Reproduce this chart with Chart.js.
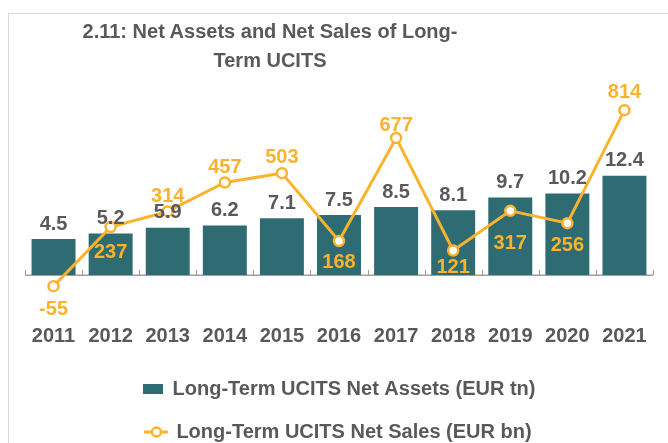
<!DOCTYPE html>
<html>
<head>
<meta charset="utf-8">
<script src="https://cdn.jsdelivr.net/npm/chart.js@4"></script>
<style>
  body { margin: 0; background: #fff; }
  #wrap { position: relative; width: 668px; height: 443px; }
  #frame { position: absolute; left: 8px; top: 13px; right: -2px; bottom: -2px;
           border-left: 1px solid #d3dae2; border-top: 1px solid #d3dae2; }
  #title { position: absolute; left: 70px; width: 400px; top: 17px; text-align: center;
           font: bold 20px "Liberation Sans", Arial, sans-serif; line-height: 29px; color: #595959; }
  canvas { position: absolute; left: 0; top: 0; }
</style>
</head>
<body>
<div id="wrap">
  <div id="frame"></div>
  <canvas id="myChart" width="668" height="443"></canvas>
  <div id="title">2.11: Net Assets and Net Sales of Long-<br>Term UCITS</div>
</div>
<script>
// ------------ data -------------
const years = ['2011', '2012', '2013', '2014', '2015', '2016', '2017', '2018', '2019', '2020', '2021'];
const netAssets = [4.5, 5.2, 5.9, 6.2, 7.1, 7.5, 8.5, 8.1, 9.7, 10.2, 12.4];
const netSales = [-55, 237, 314, 457, 503, 168, 677, 121, 317, 256, 814];

// label placement for the net sales line (px, negative = above the point)
const salesLabelDy = [23, 25, -15, -15, -16, 22, -12, 17, 33, 22, -18];

const teal = '#2f6b72';
const orange = '#fbb32e';
const grey = '#595959';
const font = '"Liberation Sans", Arial, sans-serif';

// legend markers
function boxIcon() {
  var c = document.createElement('canvas');
  c.width = 20; c.height = 10;
  var g = c.getContext('2d');
  g.fillStyle = teal;
  g.fillRect(0, 0, 20, 10);
  return c;
}
function lineIcon() {
  var c = document.createElement('canvas');
  c.width = 24; c.height = 14;
  var g = c.getContext('2d');
  g.strokeStyle = orange;
  g.lineWidth = 3;
  g.beginPath(); g.moveTo(0, 7); g.lineTo(24, 7); g.stroke();
  g.fillStyle = '#fff';
  g.lineWidth = 2.5;
  g.beginPath(); g.arc(12, 7, 4.5, 0, Math.PI * 2); g.fill(); g.stroke();
  return c;
}

// baseline at zero with inside ticks
const baselinePlugin = {
  id: 'baseline',
  beforeDatasetsDraw(chart) {
    var ctx = chart.ctx;
    var x = chart.scales.x;
    var y0 = Math.round(chart.scales.y.getPixelForValue(0));
    ctx.save();
    ctx.strokeStyle = '#a0a0a0';
    ctx.lineWidth = 1.5;
    ctx.beginPath(); ctx.moveTo(x.left, y0 + 0.25); ctx.lineTo(x.right, y0 + 0.25); ctx.stroke();
    ctx.lineWidth = 1;
    var step = (x.right - x.left) / years.length;
    for (var i = 0; i <= years.length; i++) {
      var px = Math.round(x.left + i * step) + 0.5;
      ctx.beginPath(); ctx.moveTo(px, y0); ctx.lineTo(px, y0 - 5); ctx.stroke();
    }
    ctx.restore();
  }
};

// value labels
const labelPlugin = {
  id: 'labels',
  afterDatasetsDraw(chart) {
    var ctx = chart.ctx;
    ctx.save();
    ctx.font = 'bold 20px ' + font;
    ctx.textAlign = 'center';
    ctx.textBaseline = 'middle';
    ctx.fillStyle = grey;
    chart.getDatasetMeta(0).data.forEach(function (bar, i) {
      ctx.fillText(netAssets[i].toFixed(1), bar.x, bar.y - 15);
    });
    ctx.fillStyle = orange;
    chart.getDatasetMeta(1).data.forEach(function (pt, i) {
      ctx.fillText(String(netSales[i]), pt.x, pt.y + salesLabelDy[i]);
    });
    ctx.restore();
  }
};

const data = {
  labels: years,
  datasets: [{
    type: 'bar',
    label: 'Long-Term UCITS Net Assets (EUR tn)',
    data: netAssets,
    yAxisID: 'y',
    backgroundColor: teal,
    categoryPercentage: 0.77,
    barPercentage: 1,
    order: 1
  },
  {
    type: 'line',
    label: 'Long-Term UCITS Net Sales (EUR bn)',
    data: netSales,
    yAxisID: 'y2',
    borderColor: orange,
    borderWidth: 3,
    pointRadius: 5,
    pointBorderWidth: 2.5,
    pointBackgroundColor: '#fff',
    pointBorderColor: orange,
    clip: false,
    order: 0
  }]
};

const config = {
  type: 'bar',
  data: data,
  options: {
    responsive: false,
    animation: false,
    layout: { padding: { left: 25, right: 15, top: 95, bottom: -9 } },
    scales: {
      x: {
        grid: { display: false },
        border: { display: false },
        ticks: { color: grey, font: { family: font, size: 20, weight: 'bold' }, padding: 16 },
        afterFit: function (scale) {
          scale.height = 56;
          scale.paddingLeft = 0;
          scale.paddingRight = 0;
        }
      },
      y: { display: false, min: -3.125, max: 22.5 },
      y2: { display: false, min: -123.5, max: 889, position: 'right' }
    },
    plugins: {
      tooltip: { enabled: false },
      legend: {
        position: 'bottom',
        labels: {
          color: grey,
          font: { family: font, size: 20, weight: 'bold' },
          usePointStyle: true,
          padding: 23,
          generateLabels: function (chart) {
            return chart.data.datasets.map(function (ds, i) {
              return {
                text: ds.label,
                pointStyle: ds.type === 'bar' ? boxIcon() : lineIcon(),
                fontColor: grey,
                datasetIndex: i,
                hidden: false,
                lineWidth: 0
              };
            });
          }
        }
      }
    }
  },
  plugins: [baselinePlugin, labelPlugin]
};

var myChart = new Chart(document.getElementById('myChart'), config);
</script>
</body>
</html>
